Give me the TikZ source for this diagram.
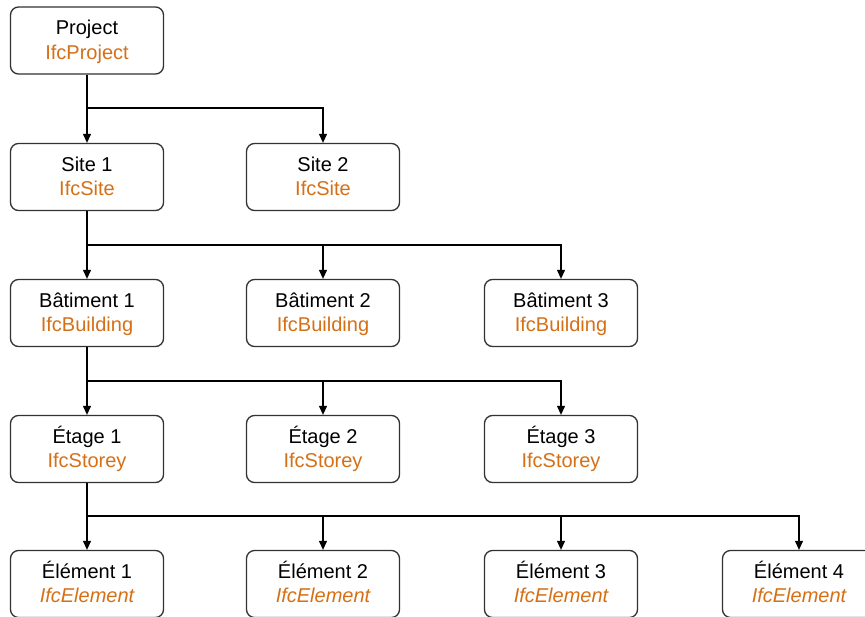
\documentclass[tikz,border=0pt]{standalone}
\usepackage{fontspec}
\setmainfont{Liberation Sans}
\usetikzlibrary{arrows.meta}
\definecolor{ifc}{RGB}{214,112,22}
\definecolor{edge}{RGB}{50,50,50}
\tikzset{
  box/.style={draw=edge, line width=1.3pt, rounded corners=8pt, fill=white,
    minimum width=153pt, minimum height=67pt, inner sep=0pt},
  lbl/.style={anchor=base, inner sep=0pt, font=\fontsize{20}{24}\selectfont},
  cls/.style={lbl, text=ifc},
  arr/.style={draw=black, line width=1.1pt, -{Triangle[length=9pt,width=8pt]}},
}
% \ifcbox{node name}{x}{y}{label}{class name}
\newcommand{\ifcbox}[5]{%
  \node[box] (#1) at (#2,#3) {};
  \node[lbl] (#1-l) at ([yshift=-28.5pt]#1.north) {#4};
  \node[cls] (#1-c) at ([yshift=-53pt]#1.north) {#5};
}
\begin{document}
\begin{tikzpicture}[x=1pt,y=-1pt]
\useasboundingbox (0,0) rectangle (865,616);
% hierarchy boxes
\ifcbox{proj}{87}{40.5}{Project}{IfcProject}
\ifcbox{s1}{87}{177}{Site 1}{IfcSite}
\ifcbox{s2}{323}{177}{Site 2}{IfcSite}
\ifcbox{b1}{87}{313}{Bâtiment 1}{IfcBuilding}
\ifcbox{b2}{323}{313}{Bâtiment 2}{IfcBuilding}
\ifcbox{b3}{561}{313}{Bâtiment 3}{IfcBuilding}
\ifcbox{e1}{87}{449}{Étage 1}{IfcStorey}
\ifcbox{e2}{323}{449}{Étage 2}{IfcStorey}
\ifcbox{e3}{561}{449}{Étage 3}{IfcStorey}
\ifcbox{el1}{87}{584}{Élément 1}{\itshape IfcElement}
\ifcbox{el2}{323}{584}{Élément 2}{\itshape IfcElement}
\ifcbox{el3}{561}{584}{Élément 3}{\itshape IfcElement}
\ifcbox{el4}{799}{584}{Élément 4}{\itshape IfcElement}
% bus junctions
\coordinate (j1) at (87,108);
\coordinate (j2) at (87,245);
\coordinate (j3) at (87,381);
\coordinate (j4) at (87,516);
% connectors
\draw[arr] (proj.south) -- (s1.north);
\draw[arr] (j1) -| (s2.north);
\draw[arr] (s1.south) -- (b1.north);
\draw[arr] (j2) -| (b2.north);
\draw[arr] (j2) -| (b3.north);
\draw[arr] (b1.south) -- (e1.north);
\draw[arr] (j3) -| (e2.north);
\draw[arr] (j3) -| (e3.north);
\draw[arr] (e1.south) -- (el1.north);
\draw[arr] (j4) -| (el2.north);
\draw[arr] (j4) -| (el3.north);
\draw[arr] (j4) -| (el4.north);
\end{tikzpicture}
\end{document}
